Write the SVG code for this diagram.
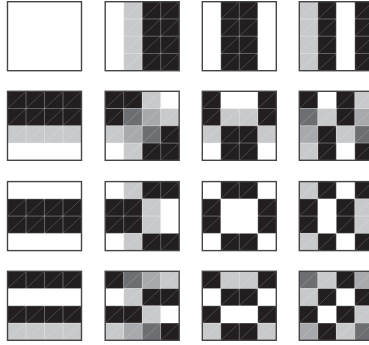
<svg xmlns="http://www.w3.org/2000/svg" xmlns:xlink="http://www.w3.org/1999/xlink" width="369" height="345" viewBox="0 0 369 345">
<style>
.bg{fill:#ffffff}
.K{fill:#231f20}
.D{fill:#6d6e71}
.M{fill:#a7a9ac}
.L{fill:#c8c9cb}
.grid{stroke:#ffffff;stroke-opacity:0.3;stroke-width:1;fill:none}
.diag{stroke:#ffffff;stroke-opacity:0.25;stroke-width:0.7;fill:none}
.frame{fill:none;stroke:#454545;stroke-width:1.4}
</style>
<defs>
<g id="mesh">
<path class="grid" d="M18.5 0V69M37 0V69M55.5 0V69M0 17.25H74M0 34.5H74M0 51.75H74"/>
<path class="diag" d="M0 17.25L18.5 0M0 34.5L37 0M0 51.75L55.5 0M0 69L74 0M18.5 69L74 17.25M37 69L74 34.5M55.5 69L74 51.75"/>
</g>
</defs>
<rect width="369" height="345" fill="#ffffff"/>

<g id="b11" transform="translate(7.5,1.7)">
<rect class="bg" width="74" height="69"/>
<rect class="frame" width="74" height="69"/>
</g>

<g id="b12" transform="translate(105.2,1.7)">
<rect class="bg" width="74" height="69"/>
<rect class="L" x="18.5" width="18.5" height="69"/>
<rect class="K" x="37" width="37" height="69"/>
<use xlink:href="#mesh"/>
<rect class="frame" width="74" height="69"/>
</g>

<g id="b13" transform="translate(202.3,1.7)">
<rect class="bg" width="74" height="69"/>
<rect class="K" x="18.5" width="37" height="69"/>
<use xlink:href="#mesh"/>
<rect class="frame" width="74" height="69"/>
</g>

<g id="b14" transform="translate(299.3,1.7)">
<rect class="bg" width="74" height="69"/>
<rect class="L" x="0" width="18.5" height="69"/>
<rect class="K" x="18.5" width="18.5" height="69"/>
<rect class="K" x="55.5" width="18.5" height="69"/>
<use xlink:href="#mesh"/>
<rect class="frame" width="74" height="69"/>
</g>

<g id="b21" transform="translate(7.5,91.3)">
<rect class="bg" width="74" height="69"/>
<rect class="K" y="0" width="74" height="34.5"/>
<rect class="L" y="34.5" width="74" height="17.25"/>
<use xlink:href="#mesh"/>
<rect class="frame" width="74" height="69"/>
</g>

<g id="b22" transform="translate(105.2,91.3)">
<rect class="bg" width="74" height="69"/>
<rect class="K" x="0" y="0" width="37" height="17.25"/>
<rect class="L" x="37" y="0" width="18.5" height="17.25"/>
<rect class="K" x="0" y="17.25" width="18.5" height="17.25"/>
<rect class="D" x="18.5" y="17.25" width="18.5" height="17.25"/>
<rect class="M" x="37" y="17.25" width="18.5" height="17.25"/>
<rect class="L" x="55.5" y="17.25" width="18.5" height="17.25"/>
<rect class="L" x="0" y="34.5" width="18.5" height="17.25"/>
<rect class="M" x="18.5" y="34.5" width="18.5" height="17.25"/>
<rect class="D" x="37" y="34.5" width="18.5" height="17.25"/>
<rect class="K" x="55.5" y="34.5" width="18.5" height="17.25"/>
<rect class="L" x="18.5" y="51.75" width="18.5" height="17.25"/>
<rect class="K" x="37" y="51.75" width="37" height="17.25"/>
<use xlink:href="#mesh"/>
<rect class="frame" width="74" height="69"/>
</g>

<g id="b23" transform="translate(202.3,91.3)">
<rect class="bg" width="74" height="69"/>
<rect class="K" x="0" y="0" width="18.5" height="34.5"/>
<rect class="K" x="55.5" y="0" width="18.5" height="34.5"/>
<rect class="L" x="18.5" y="17.25" width="37" height="17.25"/>
<rect class="L" x="0" y="34.5" width="18.5" height="17.25"/>
<rect class="K" x="18.5" y="34.5" width="37" height="34.5"/>
<rect class="L" x="55.5" y="34.5" width="18.5" height="17.25"/>
<use xlink:href="#mesh"/>
<rect class="frame" width="74" height="69"/>
</g>

<g id="b24" transform="translate(299.3,91.3)">
<rect class="bg" width="74" height="69"/>
<rect class="K" x="0" y="0" width="18.5" height="17.25"/>
<rect class="K" x="37" y="0" width="18.5" height="34.5"/>
<rect class="L" x="55.5" y="0" width="18.5" height="17.25"/>
<rect class="D" x="0" y="17.25" width="18.5" height="17.25"/>
<rect class="L" x="18.5" y="17.25" width="18.5" height="17.25"/>
<rect class="M" x="55.5" y="17.25" width="18.5" height="17.25"/>
<rect class="M" x="0" y="34.5" width="18.5" height="17.25"/>
<rect class="K" x="18.5" y="34.5" width="18.5" height="34.5"/>
<rect class="L" x="37" y="34.5" width="18.5" height="17.25"/>
<rect class="D" x="55.5" y="34.5" width="18.5" height="17.25"/>
<rect class="L" x="0" y="51.75" width="18.5" height="17.25"/>
<rect class="K" x="55.5" y="51.75" width="18.5" height="17.25"/>
<use xlink:href="#mesh"/>
<rect class="frame" width="74" height="69"/>
</g>

<g id="b31" transform="translate(7.5,181.6)">
<rect class="bg" width="74" height="69"/>
<rect class="K" y="17.25" width="74" height="34.5"/>
<use xlink:href="#mesh"/>
<rect class="frame" width="74" height="69"/>
</g>

<g id="b32" transform="translate(105.2,181.6)">
<rect class="bg" width="74" height="69"/>
<rect class="L" x="18.5" y="0" width="18.5" height="17.25"/>
<rect class="K" x="37" y="0" width="37" height="17.25"/>
<rect class="K" x="0" y="17.25" width="37" height="34.5"/>
<rect class="L" x="37" y="17.25" width="18.5" height="34.5"/>
<rect class="L" x="18.5" y="51.75" width="18.5" height="17.25"/>
<rect class="K" x="37" y="51.75" width="37" height="17.25"/>
<use xlink:href="#mesh"/>
<rect class="frame" width="74" height="69"/>
</g>

<g id="b33" transform="translate(202.3,181.6)">
<rect class="bg" width="74" height="69"/>
<rect class="K" x="18.5" y="0" width="37" height="17.25"/>
<rect class="K" x="0" y="17.25" width="18.5" height="34.5"/>
<rect class="K" x="55.5" y="17.25" width="18.5" height="34.5"/>
<rect class="K" x="18.5" y="51.75" width="37" height="17.25"/>
<use xlink:href="#mesh"/>
<rect class="frame" width="74" height="69"/>
</g>

<g id="b34" transform="translate(299.3,181.6)">
<rect class="bg" width="74" height="69"/>
<rect class="L" x="0" y="0" width="18.5" height="17.25"/>
<rect class="K" x="18.5" y="0" width="18.5" height="17.25"/>
<rect class="K" x="55.5" y="0" width="18.5" height="17.25"/>
<rect class="K" x="0" y="17.25" width="18.5" height="34.5"/>
<rect class="K" x="37" y="17.25" width="18.5" height="34.5"/>
<rect class="L" x="55.5" y="17.25" width="18.5" height="34.5"/>
<rect class="L" x="0" y="51.75" width="18.5" height="17.25"/>
<rect class="K" x="18.5" y="51.75" width="18.5" height="17.25"/>
<rect class="K" x="55.5" y="51.75" width="18.5" height="17.25"/>
<use xlink:href="#mesh"/>
<rect class="frame" width="74" height="69"/>
</g>

<g id="b41" transform="translate(7.5,271.3)">
<rect class="bg" width="74" height="69"/>
<rect class="K" y="0" width="74" height="17.25"/>
<rect class="K" y="34.5" width="74" height="17.25"/>
<rect class="L" y="51.75" width="74" height="17.25"/>
<use xlink:href="#mesh"/>
<rect class="frame" width="74" height="69"/>
</g>

<g id="b42" transform="translate(105.2,271.3)">
<rect class="bg" width="74" height="69"/>
<rect class="K" x="0" y="0" width="18.5" height="17.25"/>
<rect class="D" x="18.5" y="0" width="18.5" height="17.25"/>
<rect class="M" x="37" y="0" width="18.5" height="17.25"/>
<rect class="L" x="55.5" y="0" width="18.5" height="17.25"/>
<rect class="L" x="18.5" y="17.25" width="18.5" height="17.25"/>
<rect class="K" x="37" y="17.25" width="37" height="17.25"/>
<rect class="K" x="0" y="34.5" width="37" height="17.25"/>
<rect class="L" x="37" y="34.5" width="18.5" height="17.25"/>
<rect class="L" x="0" y="51.75" width="18.5" height="17.25"/>
<rect class="M" x="18.5" y="51.75" width="18.5" height="17.25"/>
<rect class="D" x="37" y="51.75" width="18.5" height="17.25"/>
<rect class="K" x="55.5" y="51.75" width="18.5" height="17.25"/>
<use xlink:href="#mesh"/>
<rect class="frame" width="74" height="69"/>
</g>

<g id="b43" transform="translate(202.3,271.3)">
<rect class="bg" width="74" height="69"/>
<rect class="K" x="0" y="0" width="18.5" height="17.25"/>
<rect class="L" x="18.5" y="0" width="37" height="17.25"/>
<rect class="K" x="55.5" y="0" width="18.5" height="17.25"/>
<rect class="K" x="18.5" y="17.25" width="37" height="17.25"/>
<rect class="K" x="0" y="34.5" width="18.5" height="17.25"/>
<rect class="K" x="55.5" y="34.5" width="18.5" height="17.25"/>
<rect class="L" x="0" y="51.75" width="18.5" height="17.25"/>
<rect class="K" x="18.5" y="51.75" width="37" height="17.25"/>
<rect class="L" x="55.5" y="51.75" width="18.5" height="17.25"/>
<use xlink:href="#mesh"/>
<rect class="frame" width="74" height="69"/>
</g>

<g id="b44" transform="translate(299.3,271.3)">
<rect class="bg" width="74" height="69"/>
<rect class="D" x="0" y="0" width="18.5" height="17.25"/>
<rect class="L" x="18.5" y="0" width="18.5" height="17.25"/>
<rect class="K" x="37" y="0" width="18.5" height="17.25"/>
<rect class="M" x="55.5" y="0" width="18.5" height="17.25"/>
<rect class="L" x="0" y="17.25" width="18.5" height="17.25"/>
<rect class="K" x="18.5" y="17.25" width="18.5" height="17.25"/>
<rect class="K" x="55.5" y="17.25" width="18.5" height="17.25"/>
<rect class="K" x="0" y="34.5" width="18.5" height="17.25"/>
<rect class="K" x="37" y="34.5" width="18.5" height="17.25"/>
<rect class="L" x="55.5" y="34.5" width="18.5" height="17.25"/>
<rect class="M" x="0" y="51.75" width="18.5" height="17.25"/>
<rect class="K" x="18.5" y="51.75" width="18.5" height="17.25"/>
<rect class="L" x="37" y="51.75" width="18.5" height="17.25"/>
<rect class="D" x="55.5" y="51.75" width="18.5" height="17.25"/>
<use xlink:href="#mesh"/>
<rect class="frame" width="74" height="69"/>
</g>
</svg>
